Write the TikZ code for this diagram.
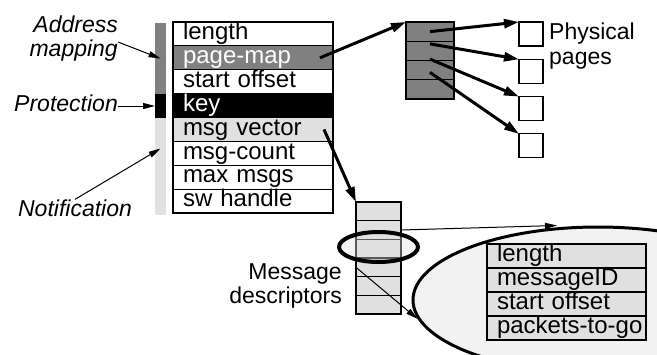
\documentclass[tikz,border=0pt]{standalone}
\usepackage{fontspec}
\setmainfont{Liberation Sans}
\usetikzlibrary{calc, shapes.geometric, arrows.meta, positioning}

\begin{document}
\begin{tikzpicture}[
    x=1pt, y=-1pt,
    node distance=0pt,
    field/.style={rectangle, draw=black, line width=1.1pt, minimum width=160pt, minimum height=23.875pt, text width=140pt, inner xsep=10pt, inner ysep=0pt, outer sep=0pt, align=left, text height=16.5pt, text depth=5pt, font=\fontsize{24}{25}\selectfont},
    descfield/.style={field, fill=black!12, minimum width=159pt, text width=139pt, minimum height=24pt},
    pagerow/.style={rectangle, draw=black, line width=1.1pt, fill=black!50, minimum width=48pt, minimum height=19.25pt, inner sep=0pt, outer sep=0pt},
    msgrow/.style={pagerow, fill=black!12, minimum width=45pt, minimum height=18.67pt},
    page/.style={rectangle, draw=black, line width=1.1pt, minimum size=24pt, inner sep=0pt, outer sep=0pt},
    bar/.style={rectangle, minimum width=11pt, inner sep=0pt, outer sep=0pt},
    note/.style={font=\fontsize{23}{24}\selectfont\itshape, inner sep=0pt},
    plain/.style={font=\fontsize{23}{24.5}\selectfont, inner sep=0pt},
    arrow/.style={line width=3pt, -{Triangle[length=15pt,width=9pt]}},
    thinarrow/.style={line width=1pt, -{Triangle[length=12pt,width=6pt]}}
]
\useasboundingbox (0,0) rectangle (657,354);

% Side bar
\node (barmap) [bar, fill=black!50, minimum height=71pt, anchor=north] at (160.5,23) {};
\node (barprot) [bar, fill=black, minimum height=24pt, below=of barmap] {};
\node (barnote) [bar, fill=black!12, minimum height=97pt, below=of barprot] {};

% Main table
\node (len) [field, anchor=north west] at (173,22) {length};
\node (pagemap) [field, fill=black!50, text=white, below=of len] {page-map};
\node (startoff) [field, below=of pagemap] {start offset};
\node (key) [field, fill=black, text=white, below=of startoff] {key};
\node (msgvec) [field, fill=black!12, below=of key] {msg vector};
\node (msgcount) [field, below=of msgvec] {msg-count};
\node (maxmsgs) [field, below=of msgcount] {max msgs};
\node (swhandle) [field, below=of maxmsgs] {sw handle};

% Labels on the left
\node (addrlabel) [note, align=right, anchor=east] at (118,39) {Address\\mapping};
\node (protlabel) [note, anchor=east] at (118,103) {Protection};
\node (notelabel) [note] at (75,208) {Notification};

% Page table and physical pages
\node (prow1) [pagerow, anchor=north west] at (406,22) {};
\node (prow2) [pagerow, below=of prow1] {};
\node (prow3) [pagerow, below=of prow2] {};
\node (prow4) [pagerow, below=of prow3] {};

\node (phys1) [page, anchor=north west] at (519,22) {};
\node (phys2) [page, below=13.3pt of phys1] {};
\node (phys3) [page, below=13.3pt of phys2] {};
\node (phys4) [page, below=13.3pt of phys3] {};
\node (physlabel) [plain, align=left, anchor=west] at (549,46) {Physical\\pages};

% Message descriptors
\node (mrow1) [msgrow, anchor=north west] at (356,202) {};
\node (mrow2) [msgrow, below=of mrow1] {};
\node (mrow3) [msgrow, below=of mrow2] {};
\node (mrow4) [msgrow, below=of mrow3] {};
\node (mrow5) [msgrow, below=of mrow4] {};
\node (mrow6) [msgrow, below=of mrow5] {};
\node (desclabel) [plain, align=right, anchor=east] at (342,286) {Message\\descriptors};

\node (ring) [ellipse, draw=black, line width=4pt, fill=black!12, fill opacity=0.4, minimum width=79pt, minimum height=30pt, inner sep=0pt] at (378.5,247) {};

% Zoomed descriptor
\node (zoomview) [ellipse, draw=black, line width=3pt, fill=black!5, minimum width=370pt, minimum height=146pt, inner sep=0pt] at (598,300) {};
\node (dlen) [descfield, anchor=north west] at (487,244) {length};
\node (did) [descfield, below=of dlen] {messageID};
\node (doff) [descfield, below=of did] {start offset};
\node (dpkt) [descfield, below=of doff] {\mbox{packets-to-go}};

% Connectors
\draw [thinarrow] ([yshift=-3pt]addrlabel.east) -- (barmap.center);
\draw [thinarrow] (protlabel.east |- barprot.west) -- (barprot.west);
\draw [thinarrow] (notelabel.north) -- ([yshift=18pt]barnote.center);

\draw [arrow] ([xshift=-13pt]pagemap.east) -- (prow1.north west);
\draw [arrow] (prow1.center) -- (phys1.north west);
\draw [arrow] ([yshift=7pt]prow2.center) -- (phys2.north west);
\draw [arrow] ([yshift=11pt]prow3.center) -- (phys3.north west);
\draw [arrow] ([yshift=17pt]prow4.center) -- (phys4.north west);

\draw [arrow] ([xshift=-9pt]msgvec.east) -- (mrow1.north west);
\draw [thinarrow] (mrow2.east) -- ([xshift=-41pt]zoomview.north);
\draw [thinarrow] (mrow4.west) -- (zoomview.186);

\end{tikzpicture}
\end{document}
